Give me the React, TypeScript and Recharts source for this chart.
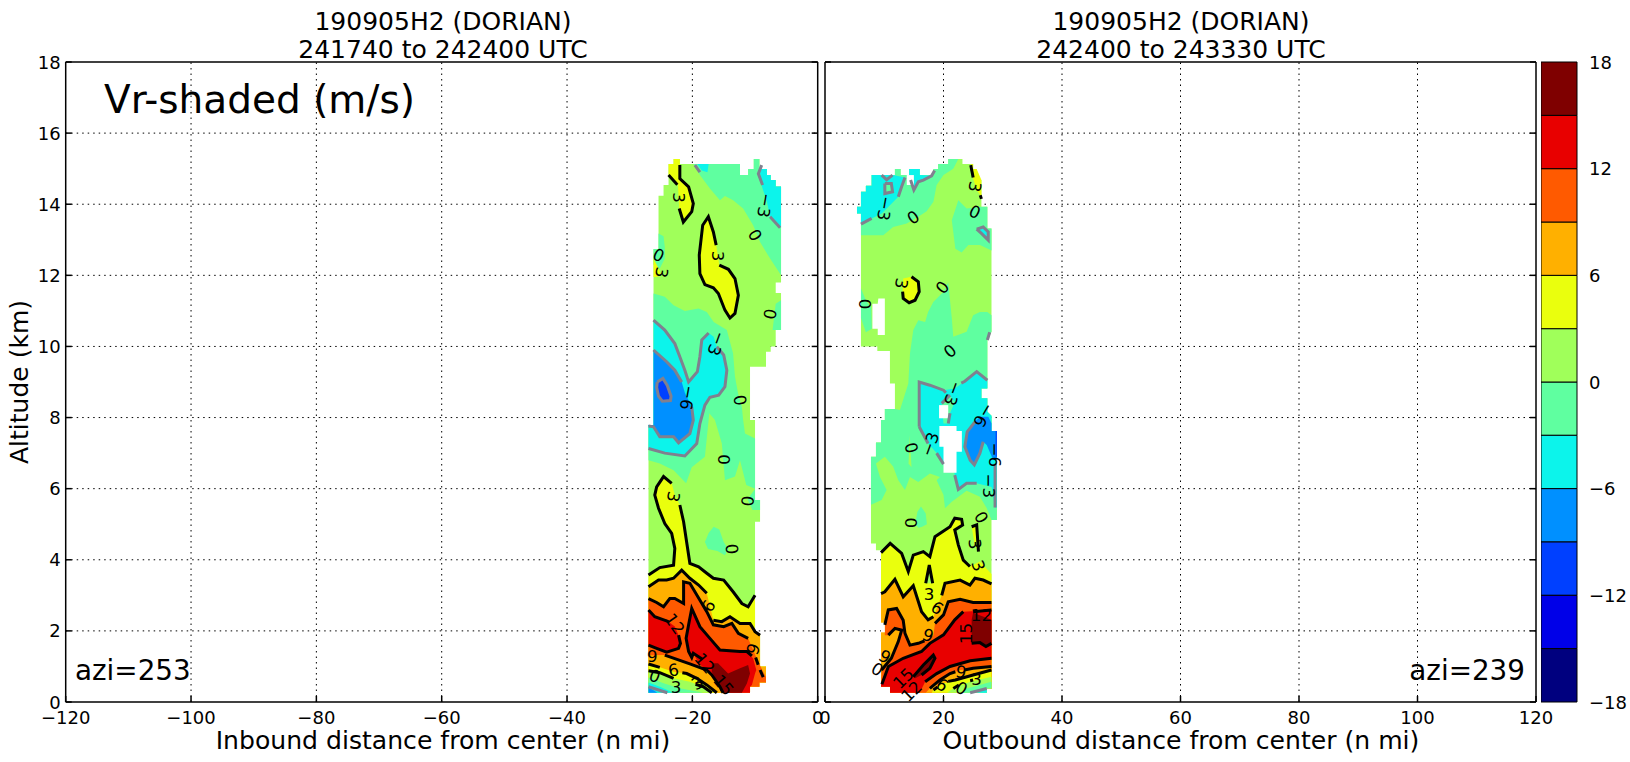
import { ScatterChart, Scatter, XAxis, YAxis, ReferenceLine, BarChart, Bar } from "recharts"

const FONT = "DejaVu Sans"
const TICK_SIZE = 18

const C = { navy: "#00007f", blue3: "#0000e8", blue2: "#0040ff", blue1: "#0090ff", cyan: "#0cf4eb", mint: "#5fffa0", green: "#a0ff5a", yellow: "#eaff0d", orange: "#ffb000", orred: "#ff5a00", red: "#e80000", dark: "#7f0000", white: "#ffffff" }

// stacked outward from zero: the six below zero first, then the six above
const colorbarBands = [-3, -3, -3, -3, -3, -3, 3, 3, 3, 3, 3, 3]
const colorbarColors = [C.mint, C.cyan, C.blue1, C.blue2, C.blue3, C.navy, C.green, C.yellow, C.orange, C.orred, C.red, C.dark]
const colorbarTicks = [-18, -12, -6, 0, 6, 12, 18]
const altTicks = [0, 2, 4, 6, 8, 10, 12, 14, 16, 18]
const inboundTicks = [-120, -100, -80, -60, -40, -20, 0]
const outboundTicks = [0, 20, 40, 60, 80, 100, 120]

type P = number[][]

// ---- inbound leg (azi 253), contour regions as [distance, altitude]
const inOutline: P = [[-27, .26], [-27, 7.79], [-26.2, 7.79], [-26.2, 12.74], [-25.4, 12.74], [-25.4, 14.24], [-24.6, 14.24], [-24.6, 14.54], [-23.8, 14.54], [-23.8, 15.13], [-23, 15.13], [-23, 15.27], [-22, 15.27], [-22, 15.13], [-12.4, 15.13], [-12.4, 14.82], [-11.1, 14.82], [-11.1, 14.99], [-10.2, 14.99], [-10.2, 15.27], [-9.3, 15.27], [-9.3, 14.99], [-8.1, 14.99], [-8.1, 14.82], [-7.5, 14.82], [-7.5, 14.68], [-6.7, 14.68], [-6.7, 14.5], [-5.85, 14.5], [-5.85, 11.8], [-6.7, 11.8], [-6.7, 11.5], [-5.85, 11.5], [-5.85, 10.46], [-6.7, 10.46], [-6.7, 10], [-7.5, 10], [-7.5, 9.85], [-8.25, 9.85], [-8.25, 9.43], [-10.8, 9.43], [-10.8, 7.93], [-10, 7.93], [-10, 5.68], [-9.2, 5.68], [-9.2, 5.07], [-10, 5.07], [-10, 1.93], [-9.2, 1.93], [-9.2, 1], [-8.25, 1], [-8.25, .55], [-9.3, .55], [-9.3, .43], [-10.8, .43], [-10.8, .26]]
const inMintTop: P = [[-19.85, 15.13], [-18.8, 14.82], [-17.2, 14.44], [-15.6, 14.11], [-14.8, 14.23], [-13.5, 14.11], [-11.9, 13.88], [-10.3, 13.41], [-9.2, 12.94], [-7.6, 12.47], [-5.85, 12], [-5.85, 14.5], [-6.7, 14.5], [-6.7, 14.68], [-7.5, 14.68], [-7.5, 14.82], [-8.1, 14.82], [-8.1, 14.99], [-9.3, 14.99], [-9.3, 15.27], [-10.2, 15.27], [-10.2, 14.99], [-11.1, 14.99], [-11.1, 14.82], [-12.4, 14.82], [-12.4, 15.13]]
const inMintLeft: P = [[-25.4, 13.18], [-24.6, 13.1], [-24.4, 12.8], [-24.4, 12.47], [-25.2, 12.19], [-26.2, 12.3], [-26.2, 12.74], [-25.4, 12.74]]
const inMintMid: P = [[-26.2, 11.49], [-24.4, 11.4], [-23, 11.16], [-21.2, 11], [-19, 11.07], [-17.7, 10.97], [-16.6, 10.69], [-14.5, 10.46], [-13.5, 9.8], [-13.2, 9.15], [-12.7, 8.68], [-12.1, 8.3], [-11.9, 7.93], [-11.6, 7.55], [-10, 7.41], [-10, 6], [-11.4, 6.1], [-12.4, 6.8], [-13.2, 6.34], [-14.8, 6.24], [-15.3, 7.27], [-16.4, 7.93], [-17.3, 8.12], [-18, 6.9], [-20.1, 6.6], [-21, 6.15], [-23, 6.52], [-25.2, 6.71], [-27, 6.8], [-27, 7.79], [-26.2, 7.79]]
const inMintCorner: P = [[-7.2, 10.46], [-6.9, 10.9], [-6.7, 11.2], [-5.85, 11.3], [-5.85, 10.46]]
const inMintLow: P = [[-11.2, 5.7], [-10, 5.99], [-10, 5.68], [-9.2, 5.68], [-9.2, 5.4], [-10.4, 5.4]]
const inMintBlob: P = [[-18, 4.5], [-17.4, 4.75], [-16.6, 4.93], [-15.7, 4.85], [-15, 4.5], [-14.3, 4.3], [-14.8, 4.13], [-16, 4.25], [-17.5, 4.3]]
const inCyanTopRight: P = [[-9.3, 14.99], [-8.9, 14.5], [-8.1, 14.06], [-7.6, 13.65], [-5.85, 13.33], [-5.85, 14.5], [-6.7, 14.5], [-6.7, 14.68], [-7.5, 14.68], [-7.5, 14.82], [-8.1, 14.82], [-8.1, 14.99]]
const inCyanTop: P = [[-19.2, 15.13], [-17.4, 15.13], [-17.6, 14.9], [-18.5, 14.95]]
const inCyanEdge: P = [[-26.2, 10.74], [-24.4, 10.46], [-22.8, 10.08], [-22, 9.71], [-21.2, 9.33], [-20.6, 9], [-19.2, 9.29], [-18.8, 9.71], [-18.5, 10.18], [-17.4, 10.38], [-16.6, 10.27], [-16.1, 9.99], [-15, 9.76], [-14.5, 9.33], [-14.8, 8.87], [-15.8, 8.63], [-17.2, 8.57], [-18, 8.35], [-18.8, 7.83], [-19.3, 7.27], [-21.2, 6.92], [-24.4, 7], [-27, 7.13]]
const inCyan: P = [...inCyanEdge, [-27, 7.79], [-26.2, 7.79]]
const inBlueEdge: P = [[-26.2, 9.9], [-24.1, 9.57], [-22.8, 9.33], [-21.7, 9], [-21.2, 8.7], [-20.1, 8.3], [-19.85, 7.93], [-20.4, 7.55], [-22.2, 7.29], [-23, 7.46], [-25.2, 7.46], [-26.2, 7.74], [-27, 7.76]]
const inBlue: P = [...inBlueEdge, [-27, 7.79], [-26.2, 7.79]]
const inBlue2: P = [[-25.6, 9], [-24.7, 9.1], [-24, 8.9], [-23.4, 8.6], [-23.5, 8.48], [-24.8, 8.46], [-25.4, 8.6], [-25.7, 8.85], [-25.6, 9]]
const inYellowTop: P = [[-23, 15.27], [-22, 15.27], [-22, 14.72], [-20.6, 14.49], [-19.85, 14.02], [-20.1, 13.79], [-21.44, 13.5], [-22.1, 13.88], [-22.3, 14.54], [-23.8, 14.82], [-23.8, 15.13], [-23, 15.13]]
const inYellowMid: P = [[-17.45, 13.65], [-16.65, 13.22], [-16.2, 12.85], [-15.7, 12.29], [-14.25, 12.17], [-13.2, 11.91], [-12.66, 11.44], [-13.2, 10.93], [-14, 10.8], [-14.8, 11.02], [-15.85, 11.49], [-16.65, 11.65], [-18, 11.74], [-18.8, 12.05], [-18.9, 12.57], [-18.35, 13.41], [-17.45, 13.65]]
const inYellowLeft: P = [[-26.2, 12.47], [-25.4, 12.2], [-25, 12], [-25.7, 11.95], [-26.2, 11.95]]
const inAbove3: P = [[-27, 3.57], [-25.2, 3.78], [-23, 3.85], [-22.8, 4.32], [-23.3, 4.74], [-24.4, 5.02], [-25.4, 5.45], [-26, 5.82], [-25.7, 6.05], [-24.6, 6.34], [-23.3, 6.15], [-22.8, 5.82], [-22, 5.54], [-21.4, 5.07], [-21, 4.6], [-20.4, 3.9], [-19, 3.8], [-17.7, 3.62], [-16.65, 3.48], [-15, 3.43], [-13.5, 3.1], [-12.1, 2.77], [-11.1, 2.68], [-10, 3], [-10, 1.93], [-9.2, 1.93], [-9.2, 1], [-8.25, 1], [-8.25, .55], [-9.3, .55], [-9.3, .43], [-10.8, .43], [-10.8, .26], [-27, .26]]
const inAbove6: P = [[-27, 3.24], [-25.4, 3.43], [-24.1, 3.43], [-23, 3.48], [-21.7, 3.71], [-20.4, 3.48], [-19, 3.29], [-17.7, 3.06], [-16.65, 2.3], [-15.3, 2.26], [-14, 2.4], [-12.4, 2.21], [-10.8, 2.21], [-10, 1.98], [-9.2, 1.88], [-9.2, 1], [-8.25, 1], [-8.25, .55], [-9.3, .55], [-9.3, .43], [-10.8, .43], [-10.8, .26], [-27, .26]]
const in9Upper: P = [[-27, 2.91], [-25.7, 2.8], [-24.6, 2.68], [-23.6, 2.91], [-22.8, 2.91], [-21.4, 2.77], [-21.4, 3.38], [-20.4, 3.34], [-17.7, 2.54], [-16.65, 2.17], [-15, 2.12], [-13.7, 2.21], [-12.66, 1.93], [-11.1, 1.79], [-10.3, 1.46]]
const inAbove9: P = [...in9Upper, [-9.5, 1.13], [-8.7, .85], [-8.25, .7], [-8.25, .55], [-9.3, .55], [-9.3, .43], [-10.8, .43], [-10.8, .26], [-15.1, .26], [-15.6, .43], [-16.9, .76], [-17.7, .9], [-20.4, 1.07], [-24.4, 1.32], [-27, 1.3]]
const inRedLeft: P = [[-27, 2.59], [-26, 2.4], [-23.8, 2.26], [-22.8, 2.12], [-22.2, 1.88], [-21.9, 1.65], [-22.2, 1.51], [-24.1, 1.4], [-25.7, 1.51], [-27, 1.6]]
const inRedRight: P = [[-20.1, 2.63], [-18.8, 2.12], [-17.2, 1.79], [-15.6, 1.46], [-12.4, 1.42], [-11.3, 1.42], [-10.3, 1.22], [-9.8, .9], [-10, .8], [-10.5, .48], [-10.8, .43], [-10.8, .26], [-14.8, .26], [-15.6, .57], [-17.5, .85], [-19, 1.09], [-19.85, 1.37], [-20.1, 1.25], [-20.6, 1.42], [-21, 1.79], [-20.6, 2.17]]
const inDark: P = [[-16.9, 1.09], [-15.9, 1.09], [-14.3, .8], [-12.4, .95], [-11.1, 1.04], [-10.8, .8], [-11.3, .52], [-12.1, .26], [-15.1, .26], [-15.9, .52], [-16.9, .85]]
const inLow6: P = [[-27, 1.3], [-24.4, 1.32], [-20.4, 1.07], [-17.7, .9], [-16.9, .76], [-15.6, .43], [-15.1, .26], [-27, .26]]
const in6Low: P = [[-27, 1.07], [-25.2, .975], [-23, .85], [-20.9, .8], [-19.3, .665], [-17.7, .48], [-16.1, .26]]
const in3Low: P = [[-27, .88], [-25.2, .825], [-23, .665], [-20.4, .57], [-18.25, .43], [-16.9, .26]]
const inLow3: P = [...in6Low, [-27, .26]]
const inLow0: P = [...in3Low, [-27, .26]]
const inLowM3: P = [[-27, .69], [-24.6, .525], [-22, .385], [-18.25, .26], [-27, .26]]
const inLowM6: P = [[-27, .55], [-25.2, .43], [-23, .26], [-27, .26]]
const inLowM9: P = [[-27, .42], [-25.6, .26], [-27, .26]]

const inFills: [P, string][] = [
    [inOutline, C.green], [inMintTop, C.mint], [inMintLeft, C.mint], [inMintMid, C.mint], [inMintCorner, C.mint], [inMintLow, C.mint], [inMintBlob, C.mint],
    [inCyanTopRight, C.cyan], [inCyanTop, C.cyan], [inCyan, C.cyan], [inBlue, C.blue1], [inBlue2, C.blue2],
    [inYellowTop, C.yellow], [inYellowMid, C.yellow], [inYellowLeft, C.yellow], [inAbove3, C.yellow], [inAbove6, C.orange], [inAbove9, C.orred],
    [inRedLeft, C.red], [inRedRight, C.red], [inDark, C.dark],
    [inLow6, C.orange], [inLow3, C.yellow], [inLow0, C.green], [inLowM3, C.mint], [inLowM6, C.cyan], [inLowM9, C.blue1],
]
const inGrey: P[] = [
    [[-26.2, 10.74], [-24.4, 10.46], [-22.8, 10.08], [-22, 9.71], [-21.2, 9.33], [-20.6, 9], [-19.2, 9.29], [-18.8, 9.71], [-18.5, 10.18], [-17.4, 10.38]],
    [[-16.1, 9.99], [-15, 9.76], [-14.5, 9.33], [-14.8, 8.87], [-15.8, 8.63], [-17.2, 8.57], [-18, 8.35], [-18.8, 7.83], [-19.3, 7.27], [-21.2, 6.92], [-24.4, 7], [-27, 7.13]],
    [[-26.2, 9.9], [-24.1, 9.57], [-22.8, 9.33], [-21.7, 9]], [[-20.1, 8.3], [-19.85, 7.93], [-20.4, 7.55], [-22.2, 7.29], [-23, 7.46], [-25.2, 7.46], [-26.2, 7.74], [-27, 7.76]],
    inBlue2, [[-8.94, 15.1], [-9.47, 14.86], [-8.8, 14.54]], [[-7.6, 13.65], [-6, 13.34]], [[-19.6, 15.1], [-18.8, 14.9]], [[-27, .43], [-24, .26]],
]
const inBlack: P[] = [
    [[-22, 15.1], [-22, 14.72], [-20.6, 14.49], [-19.85, 14.02], [-20.1, 13.79], [-21.44, 13.5], [-22.1, 13.88]], [[-23.8, 14.82], [-22.4, 14.55]],
    [[-16.2, 12.85], [-16.65, 13.22], [-17.45, 13.65], [-18.35, 13.41], [-18.9, 12.57], [-18.8, 12.05], [-18, 11.74], [-16.65, 11.65], [-15.85, 11.49], [-14.8, 11.02], [-14, 10.8], [-13.2, 10.93], [-12.66, 11.44], [-13.2, 11.91], [-14.25, 12.17], [-15.7, 12.29]],
    [[-27, 3.57], [-25.2, 3.78], [-23, 3.85], [-22.8, 4.32], [-23.3, 4.74], [-24.4, 5.02], [-25.4, 5.45], [-26, 5.82], [-25.7, 6.05], [-24.6, 6.34], [-23.3, 6.15]],
    [[-22, 5.54], [-21.4, 5.07], [-21, 4.6], [-20.4, 3.9], [-19, 3.8], [-17.7, 3.62], [-16.65, 3.48], [-15, 3.43], [-13.5, 3.1], [-12.1, 2.77], [-11.1, 2.68], [-10, 3]],
    [[-27, 3.24], [-25.4, 3.43], [-24.1, 3.43], [-23, 3.48], [-21.7, 3.71], [-20.4, 3.48], [-19, 3.29], [-17.7, 3.06]],
    [[-16.65, 2.3], [-15.3, 2.26], [-14, 2.4], [-12.4, 2.21], [-10.8, 2.21], [-10, 1.98], [-9.2, 1.88]],
    [[-27, 2.91], [-25.7, 2.8], [-24.6, 2.68], [-23.6, 2.91], [-22.8, 2.91], [-21.4, 2.77], [-21.4, 3.38], [-20.4, 3.34], [-17.7, 2.54], [-16.65, 2.17], [-15, 2.12], [-13.7, 2.21], [-12.66, 1.93], [-11.1, 1.79]],
    [[-9.9, 1.25], [-9.5, 1.05]], [[-9.2, .9], [-8.7, .7]],
    [[-27, 2.59], [-26, 2.4], [-23.8, 2.26]], [[-22.2, 1.88], [-21.9, 1.65], [-22.2, 1.51], [-24.1, 1.4], [-25.7, 1.51], [-27, 1.6]],
    [[-18.4, 1.2], [-19.85, 1.37], [-20.1, 1.25], [-20.6, 1.42], [-21, 1.79], [-20.6, 2.17], [-20.1, 2.63], [-18.8, 2.12], [-17.2, 1.79], [-15.6, 1.46], [-12.4, 1.42], [-11.3, 1.42], [-10.5, 1.3]],
    [[-24.4, 1.32], [-20.4, 1.07], [-17.7, .9], [-16.9, .76], [-15.6, .43], [-15.1, .26]],
    [[-27, 1.07], [-25.2, .975]], [[-21.6, .82], [-20.9, .8], [-19.3, .665], [-17.7, .48], [-16.1, .26]], [[-27, .88], [-25.2, .825], [-23, .665]], [[-19.5, .5], [-18.25, .43], [-16.9, .26]],
]
const inLabels = [
    { x: -22.2, y: 14.19, text: "3", angle: 90 }, { x: -8.4, y: 13.97, text: "-3", angle: 100 }, { x: -10, y: 13.13, text: "0", angle: 60 },
    { x: -25.4, y: 12.57, text: "0", angle: 25 }, { x: -24.9, y: 12.08, text: "3", angle: 100 }, { x: -15.85, y: 12.54, text: "3", angle: 90 },
    { x: -7.6, y: 10.91, text: "0", angle: 100 }, { x: -16.1, y: 10.08, text: "-3", angle: 110 }, { x: -20.75, y: 8.56, text: "-6", angle: 100 },
    { x: -12.4, y: 8.49, text: "0", angle: 80 }, { x: -14.9, y: 6.82, text: "0", angle: 90 }, { x: -23, y: 5.77, text: "3", angle: 100 },
    { x: -11.2, y: 5.65, text: "0", angle: 95 }, { x: -13.7, y: 4.3, text: "0", angle: 85 }, { x: -17.45, y: 2.7, text: "6", angle: -60 },
    { x: -22.8, y: 2.2, text: "12", angle: 55 }, { x: -10.3, y: 1.49, text: "9", angle: -70 }, { x: -26.4, y: 1.3, text: "9", angle: 0 },
    { x: -23, y: .9, text: "6", angle: -10 }, { x: -18, y: 1.09, text: "12", angle: 50 }, { x: -15, y: .48, text: "15", angle: 50 },
    { x: -26, y: .73, text: "0", angle: 20 }, { x: -22.6, y: .43, text: "3", angle: 0 }, { x: -19.2, y: .54, text: "3", angle: -30 },
]

// ---- outbound leg (azi 239)
const outOutline: P = [[9.46, .43], [9.46, 4.27], [8.6, 4.27], [8.6, 4.46], [7.76, 4.46], [7.76, 6.9], [8.6, 6.9], [8.6, 7.3], [9.45, 7.3], [9.45, 7.93], [10.1, 7.93], [10.1, 8.24], [11.8, 8.24], [11.8, 8.96], [10.96, 8.96], [10.96, 9.87], [8.83, 9.87], [8.83, 10], [6.07, 10], [6.07, 13.74], [5.4, 13.74], [5.4, 13.93], [6.07, 13.93], [6.07, 14.35], [6.9, 14.35], [6.9, 14.52], [7.87, 14.52], [7.87, 14.82], [11.8, 14.82], [11.8, 14.99], [12.76, 14.99], [12.76, 14.82], [14.2, 14.82], [14.2, 14.99], [16, 14.99], [16, 14.82], [18.3, 14.82], [18.3, 14.99], [19.1, 14.99], [19.1, 15.13], [20.8, 15.13], [20.8, 15.27], [23.2, 15.27], [23.2, 15.13], [25, 15.13], [25, 14.99], [25.6, 14.99], [25.6, 14.68], [26.4, 14.68], [26.4, 13.93], [27.4, 13.93], [27.4, 13.32], [28.1, 13.32], [28.1, 10.41], [27.4, 10.18], [27.4, 8.82], [26.4, 8.82], [26.4, 8.54], [27.4, 8.54], [27.4, 8.16], [28.1, 8.05], [28.1, 7.62], [29, 7.62], [29, 5.12], [28.1, 5.12], [28.1, .38], [27.3, .38], [27.3, .26], [10.97, .26], [10.97, .43]]
const outMintTop: P = [[6.07, 13.13], [9.84, 13.13], [11.5, 13.36], [13.8, 13.46], [15.75, 13.65], [17.15, 13.8], [18.3, 14.07], [18.84, 14.54], [20, 14.82], [21.65, 15], [22.5, 15.27], [20.8, 15.27], [20.8, 15.13], [19.1, 15.13], [19.1, 14.99], [18.3, 14.99], [18.3, 14.82], [16, 14.82], [16, 14.99], [14.2, 14.99], [14.2, 14.82], [12.76, 14.82], [12.76, 14.99], [11.8, 14.99], [11.8, 14.82], [7.87, 14.82], [7.87, 14.52], [6.9, 14.52], [6.9, 14.35], [6.07, 14.35], [6.07, 13.93], [5.4, 13.93], [5.4, 13.74], [6.07, 13.74]]
const outCyanTop: P = [[6.07, 14.35], [6.9, 14.35], [6.9, 14.52], [7.87, 14.52], [7.87, 14.82], [9.56, 14.82], [11.5, 14.82], [13.5, 14.75], [12.93, 14.49], [12.37, 14.21], [10.96, 13.97], [9.56, 13.74], [7.87, 13.6], [6.07, 13.44], [6.07, 13.74], [5.4, 13.74], [5.4, 13.93], [6.07, 13.93]]
const outMintInset: P = [[10.1, 14.58], [11.2, 14.58], [11.4, 14.35], [10.1, 14.3], [10.1, 14.58]]
const outCyanTop2: P = [[14.2, 14.99], [16, 14.99], [16, 14.82], [18, 14.8], [16.6, 14.68], [15.75, 14.63], [15, 14.4], [14.45, 14.68], [14.2, 14.82]]
const outMintRight: P = [[22.5, 14.11], [23.9, 13.88], [26.4, 13.93], [27.4, 13.93], [27.4, 13.32], [28.1, 13.32], [28.1, 12.7], [26.15, 12.85], [24.2, 12.85], [23.06, 12.64], [22, 12.75], [21.4, 13.55]]
const outCyanSmall: P = [[25.6, 13.3], [26.7, 13.36], [27.55, 13.22], [27.55, 12.99], [26.4, 13.18], [25.6, 13.3]]
const outMintEdge: P = [[6.07, 11.63], [6.9, 11.3], [7.8, 11.1], [7.9, 10.5], [6.9, 10.4], [6.07, 10.8]]
const outMintMain: P = [[20.8, 11.8], [21.4, 10.79], [21.65, 10.27], [23.9, 10.41], [25, 10.88], [26.15, 10.97], [27.4, 10.97], [28.1, 10.88], [28.1, 10.41], [27.4, 10.18], [27.4, 8.82], [26.4, 8.82], [26.4, 8.54], [27.4, 8.54], [27.4, 8.16], [28.1, 8.05], [28.1, 7.62], [29, 7.62], [29, 5.12], [28.1, 5.12], [27.3, 5.45], [26.15, 5.77], [23.9, 5.94], [21.4, 5.63], [20.25, 5.45], [20, 5.82], [18.84, 6.24], [19.4, 6.33], [17.7, 6.43], [15.75, 6.19], [14.34, 6.33], [13.5, 5.96], [12.37, 6.24], [11.5, 6.62], [10.1, 6.9], [8.6, 6.71], [9.28, 6.33], [10.4, 5.96], [9.56, 5.68], [7.76, 5.55], [7.76, 6.9], [8.6, 6.9], [8.6, 7.3], [9.45, 7.3], [9.45, 7.93], [10.1, 7.93], [10.1, 8.24], [11.8, 8.24], [12.65, 8.21], [14.06, 8.96], [14.34, 9.8], [14.9, 10.46], [15.75, 10.74], [16.9, 10.69], [17.4, 10.97], [18.28, 11.25], [20, 11.54]]
const outSliver: P = [[14.1, 6.7], [14.3, 7.5], [14.6, 6.6]]
const outMintBlob: P = [[15.2, 5], [15.6, 5.35], [16.2, 5.5], [17, 5.3], [17.2, 5], [16.4, 4.93], [15.8, 4.9]]
const outCyanMid: P = [[15.9, 9], [17.7, 8.91], [20, 8.77], [21.9, 8.82], [23.6, 9.02], [25.6, 9.29], [27.4, 9.05], [27.4, 8.82], [26.4, 8.82], [26.4, 8.54], [27.4, 8.54], [27.4, 8.16], [28.1, 8.05], [28.1, 7.62], [29, 7.62], [29, 5.47], [28.7, 5.47], [28.1, 6.05], [25.6, 6.15], [23.9, 6.15], [22.5, 5.98], [21.9, 6.38], [21.8, 6.5], [20, 6.69], [18.84, 7], [17.4, 7.27], [15.9, 7.74]]
const outMintFinger: P = [[19.7, 8.4], [21.1, 8.63], [21.9, 8.44], [21.1, 8.12], [20.8, 7.83], [20, 7.83]]
const outBlue: P = [[25.3, 7.88], [26.15, 8.02], [27.56, 8.02], [28.1, 7.84], [28.1, 7.62], [29, 7.62], [29, 6.85], [28.4, 6.8], [27.3, 7.23], [26.7, 7.32], [26.15, 7], [25.2, 6.67], [24.5, 6.8], [23.6, 7.18], [24, 7.6]]
const outBlue2: P = [[28.8, 7.62], [29, 7.62], [29, 6.9], [28.8, 6.9]]
const outYellowTop: P = [[24.6, 15.13], [25, 15.13], [25, 14.99], [25.6, 14.99], [26.4, 14.68], [26.4, 14.2], [25.6, 14.4], [24.9, 14.77]]
const outYellowSpot: P = [[13.2, 11.91], [14.6, 11.96], [15.75, 11.82], [15.9, 11.54], [15.2, 11.3], [14.2, 11.23], [13.2, 11.35], [13.1, 11.54]]
const outAbove3: P = [[9.46, 4.2], [11, 4.46], [12.94, 4.18], [14.06, 3.67], [14.9, 4.13], [16.6, 4.23], [17.7, 4.09], [18.56, 4.65], [21.1, 4.93], [21.9, 5.17], [23.06, 5.14], [23.23, 4.98], [21.9, 4.84], [22.5, 4.42], [23.34, 3.99], [24.46, 3.81], [26.15, 3.95], [28.1, 3.6], [28.1, .38], [27.3, .38], [27.3, .26], [10.97, .26], [10.97, .43], [9.46, .43]]
const outYellowBit: P = [[24.75, 4.93], [25.6, 4.98], [25.9, 4.23], [25.3, 4.4]]
const outGap3: P = [[17, 3.34], [17.6, 3.85], [18.17, 3.34]]
const outAbove6: P = [[9.46, 3.05], [10.1, 3.1], [11.8, 3.45], [13.2, 2.96], [14.9, 3.27], [16.3, 2.54], [17.4, 2.31], [18.3, 2.4], [19, 2.7], [19.7, 3], [20.25, 3.34], [22.8, 3.43], [24.46, 3.29], [25.3, 3.48], [26.7, 3.43], [28.1, 3.32], [28.1, .38], [27.3, .38], [27.3, .26], [10.97, .26], [10.97, .43], [9.46, .43]]
const outAbove9: P = [[10.1, 2.17], [10.68, 2.59], [12.09, 2.63], [13.2, 2.3], [13.5, 1.93], [14.34, 1.6], [15.75, 1.65], [17.15, 1.74], [18.3, 1.88], [18.56, 2.21], [20, 2.45], [20.8, 2.82], [22.8, 2.89], [25, 2.8], [28.1, 2.8], [28.1, .38], [27.3, .38], [27.3, .26], [10.97, .26], [10.97, .43], [9.46, .43], [9.56, .9], [11.2, 1.23], [12.37, 1.7], [12.94, 2.02], [11.8, 2.07], [10.68, 1.88], [10.1, 1.88]]
const outAbove12: P = [[9.46, .53], [10.7, 1], [13.2, 1.23], [16.3, 1.42], [17.7, 1.65], [20, 1.89], [21.9, 2.31], [23.34, 2.54], [28.1, 2.59], [28.1, 1.23], [24.5, 1.16], [21.1, 1], [18.85, .8], [16.9, .57], [16, .26], [10.97, .26], [10.97, .43], [9.46, .43]]
const outDarkRight: P = [[24.75, 2.31], [25, 2.51], [28.1, 2.31], [28.1, 1.65], [27.16, 1.56], [26.15, 1.67], [24.75, 1.65]]
const outDarkLeft: P = [[14.9, .71], [16.6, 1.04], [18.28, 1.32], [18.56, 1.23], [17.7, .95], [16.3, .76], [15.2, .67]]
const outLow6: P = [[17, .26], [17.7, .385], [19.4, .62], [21.1, .8], [22.8, .9], [28.1, 1], [28.1, .38], [27.3, .38], [27.3, .26]]
const outLow3: P = [[18, .26], [18.3, .34], [20, .53], [22, .62], [25, .76], [28.1, .9], [28.1, .38], [27.3, .38], [27.3, .26]]
const outLow0: P = [[20.6, .26], [21.66, .38], [24.5, .57], [28.1, .71], [28.1, .38], [27.3, .38], [27.3, .26]]
const outLowM3: P = [[23.2, .26], [23.9, .38], [28.1, .57], [28.1, .38], [27.3, .38], [27.3, .26]]
const outLowM6: P = [[25.6, .26], [27.3, .38], [27.3, .26]]
const outHoleA: P = [[8, 11.2], [8.9, 11.2], [9, 11.35], [10.1, 11.35], [10.1, 10.32], [8.9, 10.32], [8.9, 10.5], [8, 10.5]]
const outHoleB: P = [[13.8, 14.54], [15, 14.54], [15, 14.82], [13.8, 14.82]]
const outHoleC: P = [[19.25, 8.35], [20.8, 8.35], [20.8, 7.98], [19.25, 7.98]]
const outHoleD: P = [[19.3, 7.76], [22.2, 7.76], [22.2, 7.62], [23.1, 7.62], [23.1, 7.04], [22.2, 7.04], [22.2, 6.45], [20, 6.45], [20, 7.18], [19.3, 7.18]]
const outHoleE: P = [[9.45, 2.23], [10.1, 2.23], [10.1, 1.96], [9.45, 1.96]]

const outFills: [P, string][] = [
    [outOutline, C.green], [outMintTop, C.mint], [outCyanTop, C.cyan], [outMintInset, C.mint], [outCyanTop2, C.cyan], [outMintRight, C.mint], [outCyanSmall, C.cyan], [outMintEdge, C.mint],
    [outMintMain, C.mint], [outSliver, C.green], [outMintBlob, C.mint], [outCyanMid, C.cyan], [outMintFinger, C.mint], [outBlue, C.blue1], [outBlue2, C.blue2],
    [outYellowTop, C.yellow], [outYellowSpot, C.yellow], [outAbove3, C.yellow], [outYellowBit, C.yellow], [outGap3, C.green], [outAbove6, C.orange], [outAbove9, C.orred], [outAbove12, C.red], [outDarkRight, C.dark], [outDarkLeft, C.dark],
    [outLow6, C.orange], [outLow3, C.yellow], [outLow0, C.green], [outLowM3, C.mint], [outLowM6, C.cyan],
    [outHoleA, C.white], [outHoleB, C.white], [outHoleC, C.white], [outHoleD, C.white], [outHoleE, C.white],
]
const outGrey: P[] = [
    [[6.07, 13.44], [7.87, 13.6]], outMintInset, [[9.56, 14.82], [10.4, 14.69], [11.4, 14.82]], [[13.5, 14.75], [12.93, 14.49], [12.37, 14.21]],
    [[14.45, 14.68], [15, 14.4], [15.75, 14.63], [16.6, 14.68], [18, 14.8], [18.5, 14.95]], outCyanSmall,
    [[15.9, 7.74], [15.9, 9], [17.7, 8.91], [20, 8.77], [20.4, 8.7]], [[23, 8.97], [23.6, 9.02], [25.6, 9.29], [27.4, 9.05]],
    [[15.9, 7.74], [17.4, 7.27]], [[18.84, 7], [20, 6.69]], [[21.9, 6.38], [22.5, 5.98], [23.9, 6.15], [25.6, 6.15]],
    [[28.7, 6.7], [28.7, 5.47]], [[19.7, 8.4], [21.1, 8.63]], [[21.1, 8.12], [20.8, 7.83]],
    [[25.3, 7.88], [24, 7.6], [23.6, 7.18], [24.5, 6.8], [25.2, 6.67], [26.15, 7], [26.7, 7.32]], [[27.4, 10.18], [27.8, 10.4]], [[24.5, .26], [27.3, .38]],
]
const outBlack: P[] = [
    [[9.46, 4.2], [11, 4.46], [12.94, 4.18], [14.06, 3.67], [14.9, 4.13], [16.6, 4.23], [17.7, 4.09], [18.56, 4.65], [21.1, 4.93], [21.9, 5.17], [23.06, 5.14], [23.23, 4.98], [21.9, 4.84], [22.5, 4.42], [23.34, 3.99], [24.46, 3.81]],
    [[24.75, 4.93], [25.6, 4.98], [25.9, 4.23]], [[14.6, 11.96], [15.75, 11.82], [15.9, 11.54], [15.2, 11.3], [14.2, 11.23], [13.2, 11.35], [13.1, 11.54]],
    [[24.6, 15.1], [25, 14.75]], [[26.2, 14.25], [26.4, 14.15]], [[17, 3.34], [17.6, 3.85], [18.17, 3.34]],
    [[9.46, 3.05], [10.1, 3.1], [11.8, 3.45], [13.2, 2.96], [14.9, 3.27], [16.3, 2.54], [17.4, 2.31], [18.3, 2.4]],
    [[19.7, 3], [20.25, 3.34], [22.8, 3.43], [24.46, 3.29], [25.3, 3.48], [26.7, 3.43], [28.1, 3.32]],
    [[10.1, 2.17], [10.68, 2.59], [12.09, 2.63], [13.2, 2.3], [13.5, 1.93], [14.34, 1.6], [15.75, 1.65], [16.8, 1.72]],
    [[9.56, .9], [11.2, 1.23], [12.37, 1.7], [12.94, 2.02], [11.8, 2.07], [10.68, 1.88]], [[18.56, 2.21], [20, 2.45], [20.8, 2.82], [22.8, 2.89], [25, 2.8], [28.1, 2.8]],
    [[9.6, .5], [10.7, 1], [13.2, 1.23], [16.3, 1.42], [17.7, 1.65], [20, 1.89], [21.9, 2.31], [23.34, 2.54]], [[25, 2.54], [28.1, 2.59]],
    [[14.9, .71], [16.6, 1.04], [18.28, 1.32], [18.56, 1.23], [17.7, .95], [16.3, .76]], [[24.75, 1.65], [26.15, 1.67], [27.16, 1.56], [28.1, 1.65]],
    [[16.9, .57], [18.85, .8], [21.1, 1], [24.5, 1.16], [28.1, 1.23]], [[17.7, .385], [19.4, .62], [21.1, .8], [22, .85]], [[23.5, .9], [25, .95], [28.1, 1]],
    [[18.3, .34], [19, .42]], [[20.8, .58], [22, .62], [25, .76], [28.1, .9]], [[21.66, .38], [22.6, .48]], [[24.5, .6], [25, .62]],
]
const outLabels = [
    { x: 10.1, y: 13.88, text: "-3", angle: 100 }, { x: 14.9, y: 13.63, text: "0", angle: -35 }, { x: 25.3, y: 14.49, text: "3", angle: 100 },
    { x: 25.3, y: 13.79, text: "0", angle: 25 }, { x: 12.9, y: 11.77, text: "3", angle: 100 }, { x: 19.8, y: 11.66, text: "0", angle: -50 },
    { x: 6.75, y: 11.19, text: "0", angle: 90 }, { x: 21.1, y: 9.87, text: "0", angle: -40 }, { x: 21.65, y: 8.68, text: "-3", angle: 110 },
    { x: 26.8, y: 8.07, text: "-6", angle: 120 }, { x: 14.6, y: 7.15, text: "0", angle: 75 }, { x: 17.7, y: 7.25, text: "-3", angle: -70 },
    { x: 28.7, y: 6.95, text: "-6", angle: 90 }, { x: 27.7, y: 6.08, text: "-3", angle: 90 }, { x: 26.4, y: 5.19, text: "0", angle: 60 },
    { x: 14.45, y: 5.04, text: "0", angle: 90 }, { x: 25.3, y: 4.44, text: "3", angle: 85 }, { x: 25.9, y: 3.83, text: "3", angle: 70 },
    { x: 17.55, y: 3.04, text: "3", angle: 0 }, { x: 18.96, y: 2.65, text: "6", angle: 35 }, { x: 26.4, y: 2.45, text: "12", angle: 0 },
    { x: 23.8, y: 1.93, text: "15", angle: -90 }, { x: 17.4, y: 1.88, text: "9", angle: 20 }, { x: 10.1, y: 1.28, text: "9", angle: 30 },
    { x: 8.84, y: .92, text: "0", angle: 30 }, { x: 13.2, y: .67, text: "15", angle: -45 }, { x: 14.6, y: .3, text: "12", angle: -45 },
    { x: 19.8, y: .48, text: "6", angle: 35 }, { x: 22.95, y: .85, text: "9", angle: 10 }, { x: 23.06, y: .39, text: "0", angle: 30 }, { x: 25.6, y: .64, text: "3", angle: 0 },
]

const toPoints = (p: P) => p.map(([x, y]) => ({ x, y }))
const minusSign = (v: number) => String(v).replace("-", "\u2212")
const NoMark = () => <g />

function XTick({ x, y, payload }: any) {
    return <text x={x} y={y} dy={15} textAnchor="middle" fontFamily={FONT} fontSize={TICK_SIZE} fill="#000">{minusSign(payload.value)}</text>
}

function YTick({ x, y, payload }: any) {
    return <text x={x} y={y} dy={6.5} textAnchor="end" fontFamily={FONT} fontSize={TICK_SIZE} fill="#000">{minusSign(payload.value)}</text>
}

function BarTick({ x, y, payload }: any) {
    return <text x={x} y={y} dy={6.5} textAnchor="start" fontFamily={FONT} fontSize={TICK_SIZE} fill="#000">{minusSign(payload.value)}</text>
}

function ContourLabel(props: any) {
    const { cx, cy, payload } = props
    return (
        <text x={cx} y={cy} transform={`rotate(${payload.angle} ${cx} ${cy})`} textAnchor="middle" dominantBaseline="central"
            fontFamily={FONT} fontSize={16.7} fill="#000">
            {payload.text.replace("-", "\u2212")}
        </text>
    )
}

function Panel({ left, width, height, margin, yWidth, domain, xTicks, showY, fills, grey, black, labels }: any) {
    return (
        <div style={{ position: "absolute", left, top: 0 }}>
            <ScatterChart width={width} height={height} margin={margin} style={{ overflow: "visible" }}>
                <XAxis type="number" dataKey="x" domain={domain} ticks={xTicks} interval={0} allowDataOverflow
                    stroke="#000" strokeWidth={1.5} tick={XTick} tickSize={-6} tickMargin={13} height={60} />
                <XAxis xAxisId="top" orientation="top" type="number" domain={domain} ticks={xTicks} interval={0} allowDataOverflow
                    stroke="#000" strokeWidth={1.5} tick={NoMark} tickSize={-6} height={1} />
                <YAxis type="number" dataKey="y" domain={[0, 18]} ticks={altTicks} interval={0} allowDataOverflow width={yWidth}
                    stroke="#000" strokeWidth={1.5} tick={showY ? YTick : NoMark} tickSize={-6} tickMargin={11} />
                <YAxis yAxisId="right" orientation="right" type="number" domain={[0, 18]} ticks={altTicks} interval={0} allowDataOverflow width={1}
                    stroke="#000" strokeWidth={1.5} tick={NoMark} tickSize={-6} />

                {fills.map(([pts, color]: [P, string], i: number) => (
                    <Scatter key={`fill${i}`} data={toPoints(pts)} shape={NoMark} isAnimationActive={false} line={{ fill: color, stroke: "none" }} />
                ))}

                {xTicks.slice(1, -1).map((v: number) => (
                    <ReferenceLine key={`vx${v}`} x={v} stroke="#000" strokeWidth={1} strokeDasharray="1.5 4" />
                ))}
                {altTicks.slice(1, -1).map((v) => (
                    <ReferenceLine key={`hz${v}`} y={v} stroke="#000" strokeWidth={1} strokeDasharray="1.5 4" />
                ))}

                {grey.map((pts: P, i: number) => (
                    <Scatter key={`grey${i}`} data={toPoints(pts)} shape={NoMark} isAnimationActive={false} line={{ stroke: "#80808f", strokeWidth: 3 }} />
                ))}
                {black.map((pts: P, i: number) => (
                    <Scatter key={`black${i}`} data={toPoints(pts)} shape={NoMark} isAnimationActive={false} line={{ stroke: "#000", strokeWidth: 3 }} />
                ))}
                <Scatter data={labels} shape={ContourLabel} isAnimationActive={false} />
            </ScatterChart>
        </div>
    )
}

function Colorbar() {
    const rows = [Object.fromEntries(colorbarBands.map((v, i) => [`b${i}`, v]))]
    return (
        <div style={{ position: "absolute", left: 1541, top: 0 }}>
            <BarChart width={89} height={762} data={rows} stackOffset="sign" barCategoryGap={0} margin={{ top: 62, right: 0, bottom: 60, left: 0 }}>
                <XAxis hide />
                <YAxis orientation="right" type="number" domain={[-18, 18]} ticks={colorbarTicks} interval={0} width={53}
                    axisLine={false} tickLine={false} tick={BarTick} tickMargin={6} />
                {colorbarBands.map((_, i) => (
                    <Bar key={i} dataKey={`b${i}`} stackId="vr" fill={colorbarColors[i]} stroke="#000" strokeWidth={1} isAnimationActive={false} />
                ))}
            </BarChart>
        </div>
    )
}

export default function App() {
    return (
        <div style={{ position: "absolute", left: 0, top: 0, width: 1630, height: 762, background: "#fff", overflow: "hidden" }}>
            <Panel left={0} width={830} height={762} margin={{ top: 61, right: 11.3, bottom: 0, left: 0 }} yWidth={65.7}
                domain={[-120, 0]} xTicks={inboundTicks} showY fills={inFills} grey={inGrey} black={inBlack} labels={inLabels} />
            <Panel left={775} width={781} height={762} margin={{ top: 61, right: 19, bottom: 0, left: 0 }} yWidth={50}
                domain={[0, 120]} xTicks={outboundTicks} showY={false} fills={outFills} grey={outGrey} black={outBlack} labels={outLabels} />
            <Colorbar />
            <svg width={1630} height={762} style={{ position: "absolute", left: 0, top: 0, pointerEvents: "none" }} fontFamily={FONT} fill="#000">
                <text x={443} y={30} fontSize={25} textAnchor="middle">190905H2 (DORIAN)</text>
                <text x={443} y={58} fontSize={25} textAnchor="middle">241740 to 242400 UTC</text>
                <text x={1181} y={30} fontSize={25} textAnchor="middle">190905H2 (DORIAN)</text>
                <text x={1181} y={58} fontSize={25} textAnchor="middle">242400 to 243330 UTC</text>
                <text x={443} y={749} fontSize={25.1} textAnchor="middle">Inbound distance from center (n mi)</text>
                <text x={1181} y={749} fontSize={25.1} textAnchor="middle">Outbound distance from center (n mi)</text>
                <text transform="translate(28 382) rotate(-90)" fontSize={25} textAnchor="middle">Altitude (km)</text>
                <text x={104} y={113} fontSize={39}>Vr-shaded (m/s)</text>
                <text x={75} y={680} fontSize={27.8}>azi=253</text>
                <text x={1525} y={680} fontSize={27.8} textAnchor="end">azi=239</text>
            </svg>
        </div>
    )
}
